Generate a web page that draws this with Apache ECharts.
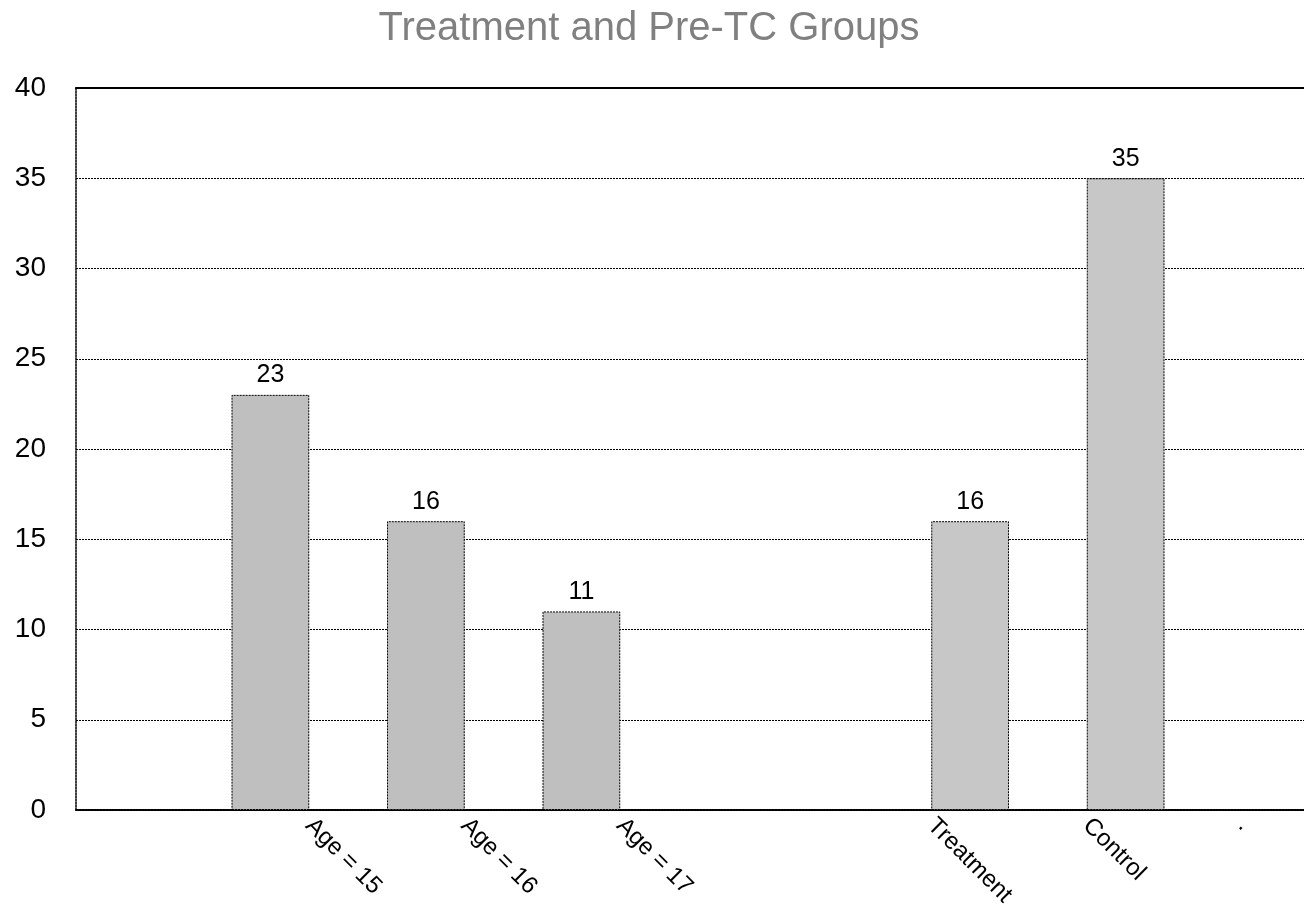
<!DOCTYPE html>
<html>
<head>
<meta charset="utf-8">
<title>Treatment and Pre-TC Groups</title>
<script src="https://cdn.jsdelivr.net/npm/echarts@6/dist/echarts.min.js"></script>
<style>
  html, body { margin: 0; padding: 0; background: #ffffff; overflow: hidden; }
  /* drawing surface runs a little past the right edge of the window */
  #chart { width: 1320px; height: 921px; }
</style>
</head>
<body>
<div id="chart"></div>
<script>
// Category slots along the x axis (blank slots keep the spacing between groups)
const categories = ['', 'Age = 15', 'Age = 16', 'Age = 17', '', 'Treatment', 'Control', '.'];
// Pre-TC age groups
const ageCounts = [null, 23, 16, 11, null, null, null, null];
// Treatment / control groups
const groupCounts = [null, null, null, null, null, 16, 35, null];
const yTicks = { min: 0, max: 40, interval: 5 };

const FONT = '"Liberation Sans", Arial, sans-serif';
const DOTS = [2, 1];

const barLabel = {
  show: true,
  position: 'top',
  distance: 7,
  color: '#000',
  fontSize: 25,
  fontFamily: FONT
};
const barBorder = { borderColor: '#000', borderWidth: 1, borderType: DOTS };

const chart = echarts.init(document.getElementById('chart'), null, { renderer: 'canvas' });
chart.setOption({
  animation: false,
  backgroundColor: '#ffffff',
  title: {
    text: 'Treatment and Pre-TC Groups',
    left: 644,
    textAlign: 'center',
    top: 4,
    textStyle: { color: '#808080', fontSize: 40, fontWeight: 'normal', fontFamily: FONT }
  },
  grid: { left: 76, right: 0, top: 88, bottom: 111, containLabel: false },
  xAxis: [
    {
      type: 'category',
      data: categories,
      position: 'bottom',
      axisLine: { show: true, lineStyle: { color: '#000', width: 2, type: DOTS } },
      axisTick: { show: false },
      axisLabel: {
        interval: 0,
        rotate: -45,
        margin: 12,
        color: '#000',
        fontSize: 24,
        fontFamily: FONT
      },
      splitLine: { show: false }
    },
    {
      // solid frame line along the top of the plot
      type: 'category',
      data: categories,
      position: 'top',
      axisLine: { show: true, lineStyle: { color: '#000', width: 2, type: 'solid' } },
      axisTick: { show: false },
      axisLabel: { show: false }
    }
  ],
  yAxis: {
    type: 'value',
    min: yTicks.min,
    max: yTicks.max,
    interval: yTicks.interval,
    axisLine: { show: true, lineStyle: { color: '#000', width: 1.5, type: DOTS } },
    axisTick: { show: false },
    axisLabel: { color: '#000', fontSize: 28, fontFamily: FONT, margin: 30 },
    splitLine: { show: true, lineStyle: { color: '#000', width: 1, type: DOTS } }
  },
  series: [
    {
      name: 'Age',
      type: 'bar',
      data: ageCounts,
      barGap: '0%',
      barCategoryGap: '0%',
      itemStyle: Object.assign({ color: '#bfbfbf' }, barBorder),
      label: barLabel
    },
    {
      name: 'Group',
      type: 'bar',
      data: groupCounts,
      barGap: '0%',
      barCategoryGap: '0%',
      itemStyle: Object.assign({ color: '#c7c7c7' }, barBorder),
      label: barLabel
    }
  ]
});
</script>
</body>
</html>
